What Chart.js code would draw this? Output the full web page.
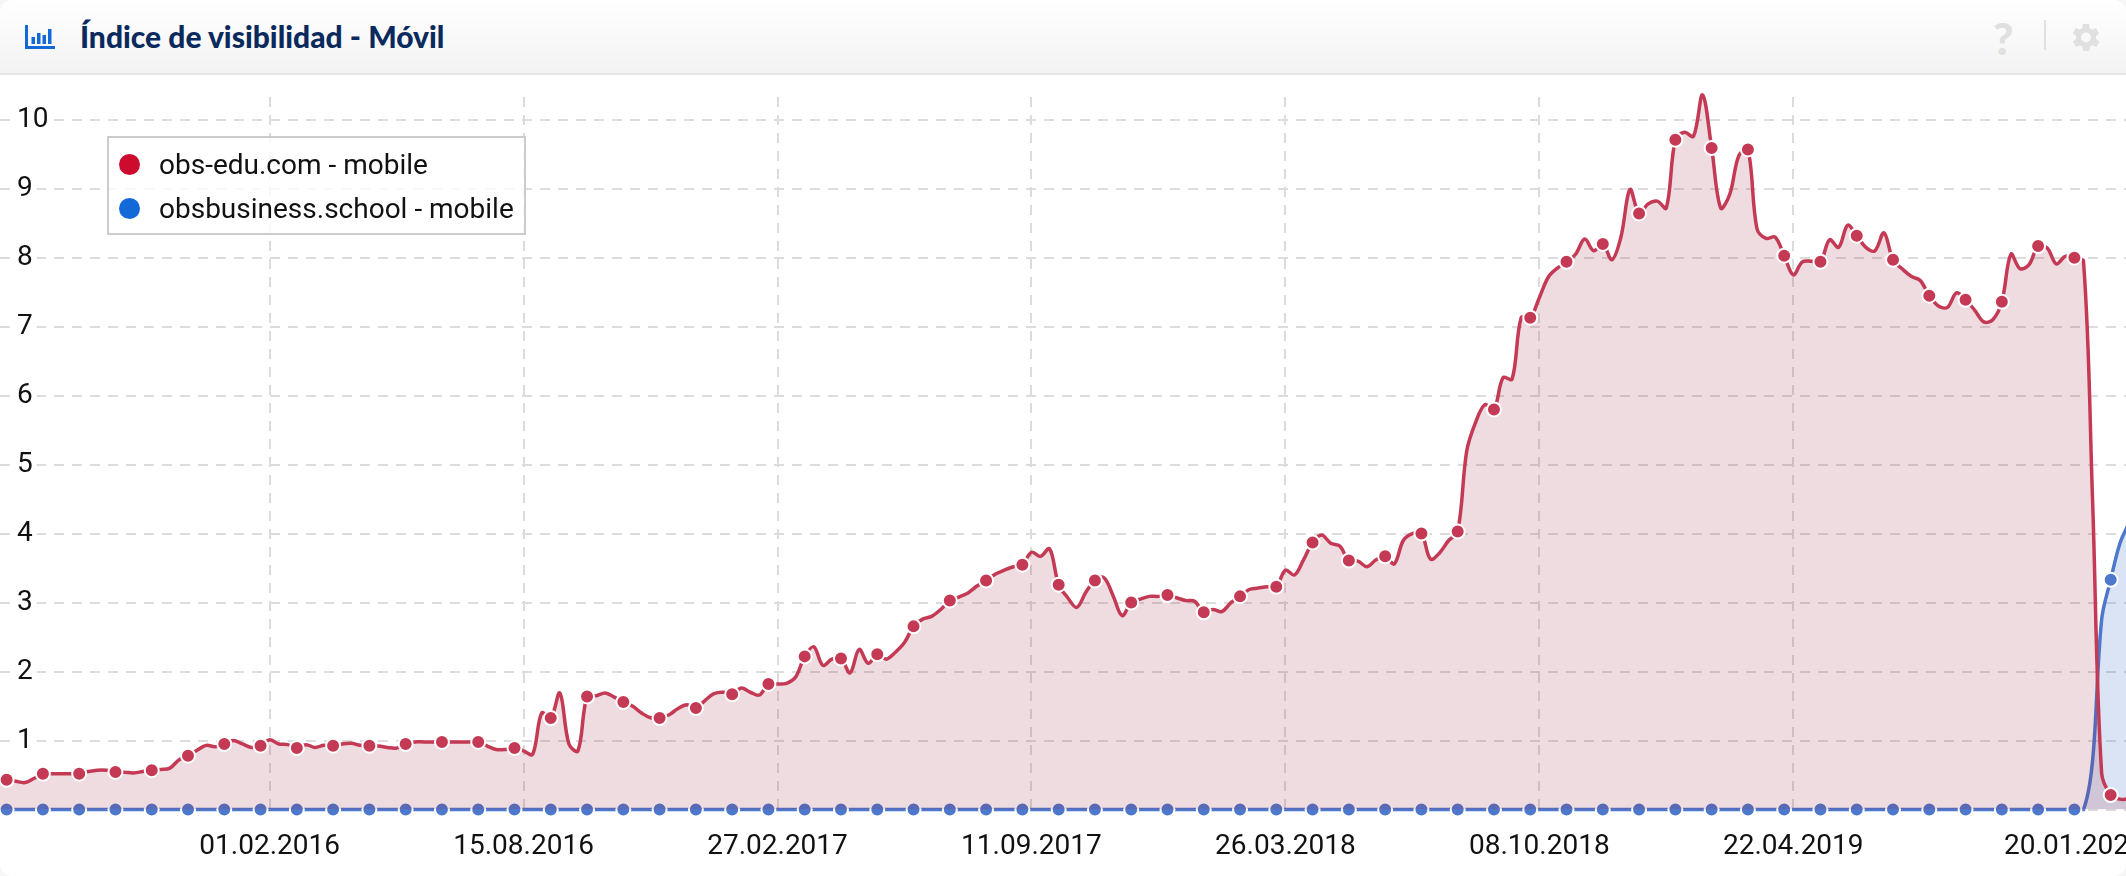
<!DOCTYPE html>
<html>
<head>
<meta charset="utf-8">
<script src="https://cdn.jsdelivr.net/npm/chart.js@4"></script>
<style>
  html, body { margin: 0; padding: 0; background: #f6f6f6; }
  #card { position: relative; width: 2126px; height: 876px; background: #fff; border-radius: 12px; overflow: hidden; }
  #head { position: absolute; left: 0; top: 0; width: 2126px; height: 75px; box-sizing: border-box;
          background: linear-gradient(#ffffff, #f3f3f3); border-bottom: 2px solid #e4e4e4; }
  #title { position: absolute; left: 80px; top: 18px; font: 900 30px Lato, sans-serif; color: #0a2a5e; white-space: nowrap; }
  #icon { position: absolute; left: 25px; top: 25px; }
  #help { position: absolute; left: 1993px; top: 12px; font: 900 44px Lato, sans-serif; color: #e0e0e0; }
  #sep { position: absolute; left: 2044px; top: 20px; width: 2px; height: 30px; background: #e0e0e0; }
  #gear { position: absolute; left: 2066px; top: 19px; }
  #chartbox { position: absolute; left: 0; top: 76px; width: 2126px; height: 800px; }
  #legend { position: absolute; left: 107px; top: 136px; width: 419px; height: 99px; box-sizing: border-box;
            border: 2px solid #cccccc; background: rgba(255,255,255,0.8); font: 28px Roboto, sans-serif; color: #111; }
  #legend div { position: absolute; left: 50px; white-space: nowrap; }
  #legend span { position: absolute; left: -40px; top: 6px; width: 21px; height: 21px; border-radius: 50%; }
</style>
</head>
<body>
<div id="card">
  <div id="head">
    <svg id="icon" width="30" height="24" viewBox="0 0 30 24">
      <path d="M0 0h3v21H30V24H0z M6.5 12h3.5v7H6.5z M12 8h3.5v11H12z M17.5 10h3.500v9h-3.500z M23 4h3.500v15H23z" fill="#1469d8"/>
    </svg>
    <div id="title">Índice de visibilidad - Móvil</div>
    <div id="help">?</div>
    <div id="sep"></div>
    <svg id="gear" width="37" height="37" viewBox="0 0 24 24">
      <path d="M19.4 13a7.6 7.6 0 0 0 0-2l2.1-1.6-2-3.500-2.500 1a7.6 7.6 0 0 0-1.700-1L15 3.200h-4l-.4 2.700a7.6 7.6 0 0 0-1.700 1l-2.500-1-2 3.500L6.600 11a7.6 7.6 0 0 0 0 2l-2.100 1.600 2 3.500 2.500-1a7.6 7.6 0 0 0 1.700 1l.4 2.700h4l.4-2.700a7.6 7.6 0 0 0 1.700-1l2.500 1 2-3.500zM13 15.200a3.200 3.200 0 1 1 0-6.400 3.200 3.200 0 0 1 0 6.400z" fill="#e0e0e0"/>
    </svg>
  </div>
  <div id="chartbox"><canvas id="myChart" width="2126" height="800"></canvas></div>
  <div id="legend"></div>
</div>

<script>
var seriesNames = ['obs-edu.com - mobile', 'obsbusiness.school - mobile'];
var legendColors = ['#cc0b2e', '#1469d8'];

// positions on the weekly axis that carry a date label
var tickWeeks = [30, 58, 86, 114, 142, 170, 198, 229];
var tickLabels = ['01.02.2016', '15.08.2016', '27.02.2017', '11.09.2017', '26.03.2018', '08.10.2018', '22.04.2019', '20.01.2020'];
var yTicks = [0, 1, 2, 3, 4, 5, 6, 7, 8, 9, 10];

// one value per week, a marker sits on every 4th one
var redValues = [
  0.45,
  0.43, 0.41, 0.39, 0.45,
  0.52, 0.52, 0.52, 0.52,
  0.52, 0.55, 0.57, 0.57,
  0.545, 0.54, 0.53, 0.55,
  0.57, 0.58, 0.60, 0.72,
  0.78, 0.86, 0.93, 0.91,
  0.95, 1.00, 0.95, 0.90,
  0.925, 1.01, 0.95, 0.94,
  0.89, 0.94, 0.90, 0.93,
  0.925, 0.95, 0.96, 0.93,
  0.925, 0.92, 0.90, 0.89,
  0.95, 0.98, 0.98, 0.98,
  0.98, 0.98, 0.98, 0.98,
  0.98, 0.92, 0.87, 0.87,
  0.89, 0.85, 0.80, 1.40,
  1.325, 1.69, 0.95, 0.85,
  1.64, 1.65, 1.69, 1.63,
  1.56, 1.50, 1.40, 1.33,
  1.325, 1.37, 1.46, 1.52,
  1.47, 1.58, 1.68, 1.70,
  1.67, 1.76, 1.70, 1.66,
  1.82, 1.82, 1.83, 1.92,
  2.22, 2.36, 2.09, 2.18,
  2.19, 1.98, 2.32, 2.12,
  2.25, 2.18, 2.28, 2.42,
  2.655, 2.76, 2.80, 2.90,
  3.03, 3.08, 3.14, 3.24,
  3.32, 3.41, 3.47, 3.52,
  3.55, 3.73, 3.67, 3.78,
  3.26, 3.07, 2.93, 3.15,
  3.32, 3.36, 3.10, 2.81,
  3.00, 3.05, 3.09, 3.09,
  3.11, 3.07, 3.03, 3.02,
  2.86, 2.90, 2.87, 3.00,
  3.09, 3.19, 3.21, 3.23,
  3.23, 3.47, 3.40, 3.62,
  3.87, 3.98, 3.86, 3.82,
  3.61, 3.60, 3.52, 3.62,
  3.67, 3.56, 3.90, 4.00,
  4.00, 3.63, 3.72, 3.90,
  4.03, 5.20, 5.62, 5.87,
  5.80, 6.26, 6.24, 7.13,
  7.13, 7.42, 7.72, 7.85,
  7.94, 8.05, 8.27, 8.10,
  8.20, 7.97, 8.30, 8.99,
  8.64, 8.78, 8.82, 8.72,
  9.71, 9.82, 9.76, 10.36,
  9.59, 8.72, 8.92, 9.48,
  9.57, 8.42, 8.28, 8.30,
  8.03, 7.75, 7.94, 7.95,
  7.94, 8.26, 8.15, 8.47,
  8.32, 8.15, 8.10, 8.36,
  7.97, 7.84, 7.73, 7.67,
  7.45, 7.30, 7.28, 7.49,
  7.39, 7.24, 7.07, 7.10,
  7.36, 8.05, 7.84, 7.90,
  8.17, 8.14, 7.91, 8.02,
  8.00, 7.95, 4.50, 0.53,
  0.21, 0.15, 0.15
];
var blueValues = [
  0,
  0, 0, 0, 0, 0, 0, 0, 0, 0, 0, 0, 0, 0, 0, 0, 0, 0, 0, 0, 0,
  0, 0, 0, 0, 0, 0, 0, 0, 0, 0, 0, 0, 0, 0, 0, 0, 0, 0, 0, 0,
  0, 0, 0, 0, 0, 0, 0, 0, 0, 0, 0, 0, 0, 0, 0, 0, 0, 0, 0, 0,
  0, 0, 0, 0, 0, 0, 0, 0, 0, 0, 0, 0, 0, 0, 0, 0, 0, 0, 0, 0,
  0, 0, 0, 0, 0, 0, 0, 0, 0, 0, 0, 0, 0, 0, 0, 0, 0, 0, 0, 0,
  0, 0, 0, 0, 0, 0, 0, 0, 0, 0, 0, 0, 0, 0, 0, 0, 0, 0, 0, 0,
  0, 0, 0, 0, 0, 0, 0, 0, 0, 0, 0, 0, 0, 0, 0, 0, 0, 0, 0, 0,
  0, 0, 0, 0, 0, 0, 0, 0, 0, 0, 0, 0, 0, 0, 0, 0, 0, 0, 0, 0,
  0, 0, 0, 0, 0, 0, 0, 0, 0, 0, 0, 0, 0, 0, 0, 0, 0, 0, 0, 0,
  0, 0, 0, 0, 0, 0, 0, 0, 0, 0, 0, 0, 0, 0, 0, 0, 0, 0, 0, 0,
  0, 0, 0, 0, 0, 0, 0, 0, 0, 0, 0, 0, 0, 0, 0, 0, 0, 0, 0, 0,
  0, 0, 0, 0, 0, 0, 0, 0,
  0, 0, 0.70, 2.75, 3.33, 3.85, 4.15
];

function points(values) {
  return values.map(function (v, i) { return { x: i, y: v }; });
}

function markerRadius(ctx) {
  return ctx.dataIndex % 4 === 1 ? 7 : 0;
}

// legend
var legendBox = document.getElementById('legend');
seriesNames.forEach(function (name, i) {
  var row = document.createElement('div');
  row.style.top = (10 + i * 44) + 'px';
  row.textContent = name;
  var dot = document.createElement('span');
  dot.style.background = legendColors[i];
  row.appendChild(dot);
  legendBox.appendChild(row);
});

Chart.defaults.font.family = 'Roboto';

var ctx = document.getElementById('myChart');
var myChart = new Chart(ctx, {
  type: 'line',
  data: {
    datasets: [
      {
        label: seriesNames[0],
        data: points(redValues),
        borderColor: '#c43a55',
        backgroundColor: 'rgba(150, 40, 60, 0.16)',
        pointBackgroundColor: '#c43a55'
      },
      {
        label: seriesNames[1],
        data: points(blueValues),
        borderColor: '#4d78cc',
        backgroundColor: 'rgba(77, 120, 204, 0.2)',
        pointBackgroundColor: '#4d78cc'
      }
    ]
  },
  options: {
    responsive: false,
    animation: false,
    layout: { padding: { top: 21 } },
    datasets: {
      line: {
        borderWidth: 3.5,
        tension: 0.35,
        fill: 'origin',
        clip: false,
        pointRadius: markerRadius,
        pointBorderColor: '#ffffff',
        pointBorderWidth: 2
      }
    },
    plugins: { legend: { display: false }, tooltip: { enabled: false } },
    scales: {
      x: {
        type: 'linear',
        min: 0.27,
        max: 234.69,
        afterBuildTicks: function (axis) {
          axis.ticks = tickWeeks.map(function (w) { return { value: w }; });
        },
        afterFit: function (axis) {
          axis.height = 66.5;
          axis.paddingLeft = 0;
          axis.paddingRight = 0;
        },
        border: { display: false, dash: [10, 8] },
        grid: {
          drawTicks: false,
          lineWidth: 2,
          color: function (c) {
            return c.tick && c.tick.value === 229 ? 'rgba(0,0,0,0)' : '#dcdcdc';
          }
        },
        ticks: {
          autoSkip: false,
          maxRotation: 0,
          minRotation: 0,
          padding: 21,
          color: '#111111',
          font: { size: 28 },
          callback: function (v) { return tickLabels[tickWeeks.indexOf(v)]; }
        }
      },
      y: {
        min: 0,
        max: 10.33,
        afterBuildTicks: function (axis) {
          axis.ticks = yTicks.map(function (v) { return { value: v }; });
        },
        afterFit: function (axis) {
          axis.width = 0;
          axis.paddingTop = 0;
          axis.paddingBottom = 0;
        },
        border: { display: false, dash: [10, 8] },
        grid: { drawTicks: false, lineWidth: 2, color: '#dcdcdc' },
        ticks: {
          mirror: true,
          padding: 17,
          color: '#111111',
          font: { size: 28 },
          showLabelBackdrop: function (c) { return c.tick.value !== 0; },
          backdropColor: '#ffffff',
          backdropPadding: { left: 3, right: 4, top: 2, bottom: 2 },
          callback: function (v) { return v === 0 ? '' : String(v); }
        }
      }
    }
  }
});
</script>
</body>
</html>
